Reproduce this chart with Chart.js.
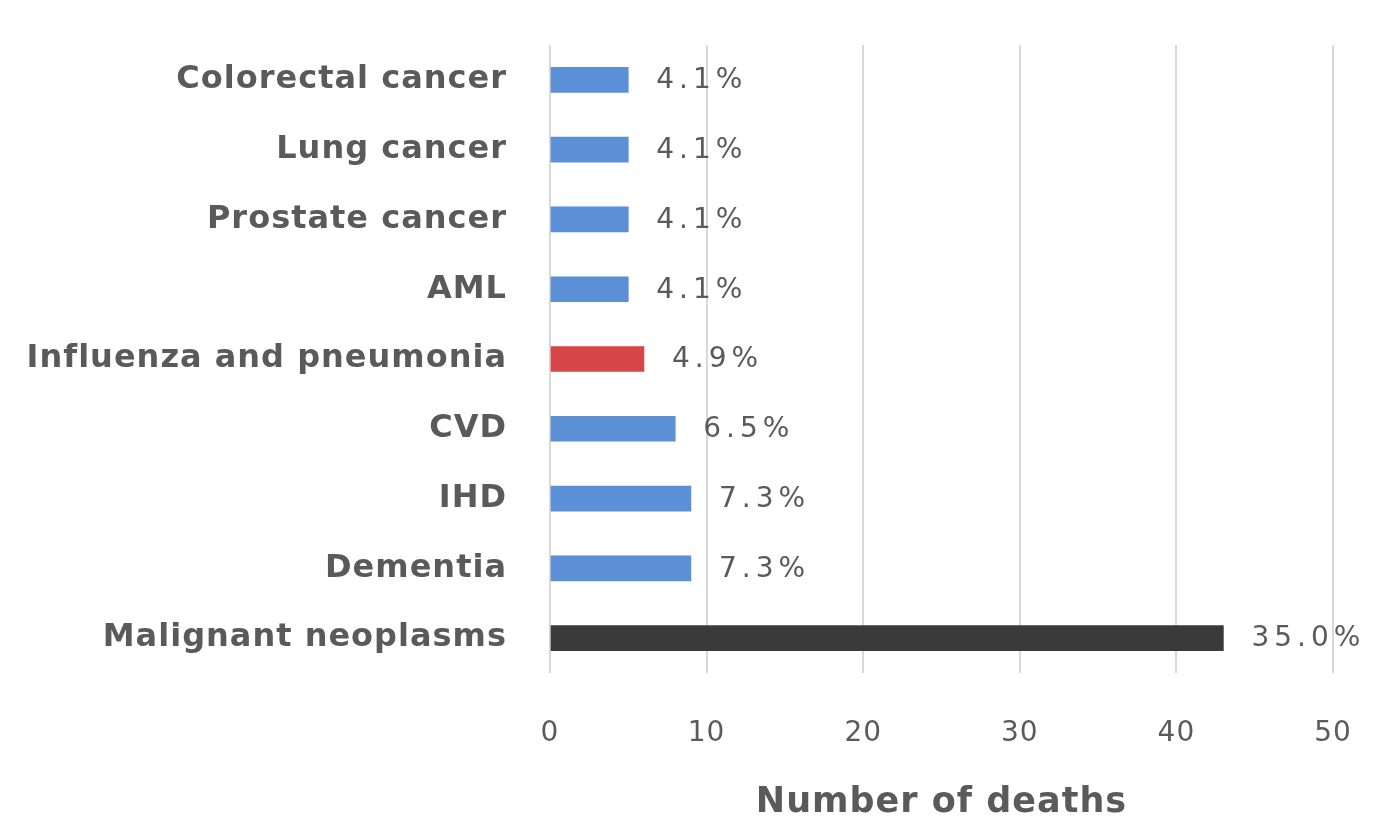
<!DOCTYPE html>
<html>
<head>
<meta charset="utf-8">
<script src="https://cdn.jsdelivr.net/npm/chart.js@4/dist/chart.umd.min.js"></script>
<style>
  html, body { margin: 0; padding: 0; background: #ffffff; }
  #wrap { width: 1378px; height: 829px; }
</style>
</head>
<body>
<div id="wrap"><canvas id="c" width="1378" height="829"></canvas></div>
<script>
// ---- data ----
const categories = [
  'Colorectal cancer',
  'Lung cancer',
  'Prostate cancer',
  'AML',
  'Influenza and pneumonia',
  'CVD',
  'IHD',
  'Dementia',
  'Malignant neoplasms'
];
const deaths = [5, 5, 5, 5, 6, 8, 9, 9, 43];
const percentages = [4.1, 4.1, 4.1, 4.1, 4.9, 6.5, 7.3, 7.3, 35.0];
const barColors = ['#5B8FD6', '#5B8FD6', '#5B8FD6', '#5B8FD6', '#D64548', '#5B8FD6', '#5B8FD6', '#5B8FD6', '#3A3A3A'];
const xTicks = [0, 10, 20, 30, 40, 50];
const xTitle = 'Number of deaths';

const FONT = "'DejaVu Sans', sans-serif";
const TEXT = '#5a5a5a';

const spacingPlugin = {
  id: 'spacing',
  beforeUpdate(chart) { chart.ctx.letterSpacing = '1px'; },
  beforeDraw(chart) { chart.ctx.letterSpacing = '1px'; }
};

const labelPlugin = {
  id: 'valueLabels',
  afterDatasetsDraw(chart) {
    const ctx = chart.ctx;
    const meta = chart.getDatasetMeta(0);
    ctx.save();
    ctx.letterSpacing = '5px';
    ctx.font = '28px ' + FONT;
    ctx.fillStyle = TEXT;
    ctx.textAlign = 'left';
    ctx.textBaseline = 'middle';
    meta.data.forEach((el, i) => {
      ctx.fillText(percentages[i].toFixed(1) + '%', el.x + 28, el.y + 1);
    });
    ctx.restore();
  }
};

new Chart(document.getElementById('c'), {
  type: 'bar',
  data: {
    labels: categories,
    datasets: [{
      data: deaths,
      backgroundColor: barColors,
      borderWidth: 0,
      barThickness: 25
    }]
  },
  options: {
    indexAxis: 'y',
    responsive: false,
    animation: false,
    events: [],
    layout: { padding: { top: 45, right: 45, bottom: 0, left: 0 } },
    plugins: {
      legend: { display: false },
      tooltip: { enabled: false }
    },
    scales: {
      x: {
        min: 0,
        max: 50,
        afterBuildTicks(scale) { scale.ticks = xTicks.map(v => ({ value: v })); },
        afterFit(scale) {
          scale.height = 156;
          scale.paddingLeft = 0;
          scale.paddingRight = 0;
        },
        grid: { color: '#d9d9d9', lineWidth: 2, drawTicks: false },
        border: { display: false },
        ticks: {
          padding: 44,
          color: TEXT,
          font: { family: FONT, size: 28 }
        },
        title: {
          display: true,
          text: xTitle,
          color: TEXT,
          padding: { top: 0, bottom: 5 },
          font: { family: FONT, size: 35, weight: 'bold' }
        }
      },
      y: {
        afterFit(scale) {
          scale.width = 550;
          scale.paddingTop = 0;
          scale.paddingBottom = 0;
        },
        grid: { display: false, drawTicks: false },
        border: { display: false },
        ticks: {
          padding: 43,
          color: TEXT,
          font: { family: FONT, size: 32, weight: 'bold' }
        }
      }
    }
  },
  plugins: [spacingPlugin, labelPlugin]
});
</script>
</body>
</html>
